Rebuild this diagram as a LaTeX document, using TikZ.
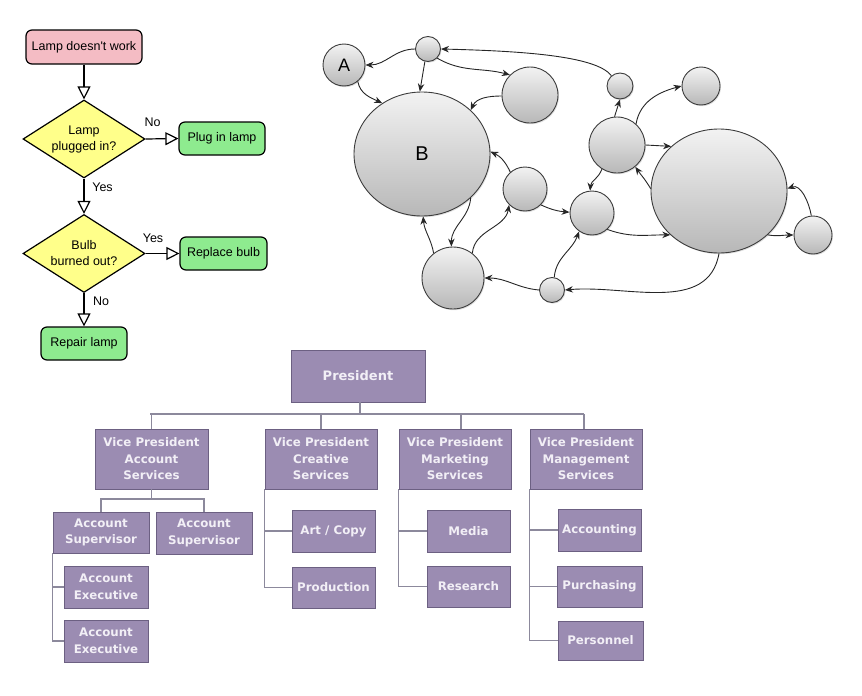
\documentclass[tikz,border=0pt]{standalone}
\usepackage{fontspec}
\setmainfont{Liberation Sans}[Ligatures=TeXOff]
\newfontfamily\orgfont{DejaVu Sans}
\usetikzlibrary{arrows.meta,shapes.geometric,shadows}
\definecolor{fcpink}{HTML}{F4BCC4}
\definecolor{fcyellow}{HTML}{FFFF8A}
\definecolor{fcgreen}{HTML}{8EEB8F}
\definecolor{orgfill}{HTML}{9B8CB2}
\definecolor{orgedge}{HTML}{6C6082}
\definecolor{orgshadow}{HTML}{5A5070}
\definecolor{orgtext}{HTML}{F2EFF6}
\definecolor{orgline}{HTML}{8C899C}
\definecolor{gborder}{HTML}{3C3C3C}
\begin{document}
\begin{tikzpicture}[x=1pt,y=-1pt,
  fcbox/.style={draw, line width=1.2pt, rounded corners=6pt, inner sep=0pt,
    minimum width=86pt, minimum height=33pt, font=\fontsize{12.5}{15}\selectfont},
  decision/.style={diamond, draw, line width=1.2pt, fill=fcyellow, inner sep=0pt,
    minimum width=122pt, minimum height=78pt},
  dtext/.style={align=center, inner sep=0pt, font=\fontsize{12.5}{16}\selectfont},
  flowarrow/.style={draw, line width=1.2pt, -{Triangle[open, length=13pt, width=13pt, line width=1.2pt]}},
  flowlabel/.style={font=\fontsize{12.5}{15}\selectfont, inner sep=0pt},
  gnode/.style={circle, draw=gborder, line width=0.9pt, top color=black!5, bottom color=black!28,
    inner sep=0pt, drop shadow={opacity=0.25, shadow xshift=1pt, shadow yshift=-1.2pt}},
  bignode/.style={ellipse, draw=gborder, line width=0.9pt, top color=black!5, bottom color=black!28,
    inner sep=0pt, minimum width=136pt, minimum height=124pt,
    drop shadow={opacity=0.25, shadow xshift=1pt, shadow yshift=-1.2pt}},
  gedge/.style={draw=black!85, line width=0.9pt, -{Stealth[length=8pt, width=6.5pt]}},
  orgbox/.style={rectangle, fill=orgfill, draw=orgedge, line width=0.8pt, text=orgtext,
    font=\orgfont\bfseries\fontsize{11.8}{16.5}\selectfont, align=center, inner sep=0pt,
    drop shadow={shadow xshift=1.3pt, shadow yshift=-1.3pt, fill=orgshadow, opacity=0.7}},
  orgconn/.style={draw=orgline, line width=1.5pt}
]
\useasboundingbox (0,0) rectangle (862,696);

% ---------------- Flowchart ----------------
\node[fcbox, fill=fcpink, minimum width=116pt, minimum height=34pt] (start) at (84,47) {Lamp doesn't work};
\node[decision] (d1) at (84,139) {};
\node[dtext] (d1t) at (d1.center) {Lamp\\plugged in?};
\node[fcbox, fill=fcgreen] (plug) at (222,138.5) {Plug in lamp};
\node[decision] (d2) at (84,253.5) {};
\node[dtext] (d2t) at (d2.center) {Bulb\\burned out?};
\node[fcbox, fill=fcgreen, minimum width=87pt] (repl) at (223.5,253.5) {Replace bulb};
\node[fcbox, fill=fcgreen] (repair) at (84,343.5) {Repair lamp};

\draw[flowarrow] (start.south) -- (d1.north);
\draw[flowarrow] (d1.east) -- (plug.west);
\draw[flowarrow] (d1.south) -- (d2.north);
\draw[flowarrow] (d2.east) -- (repl.west);
\draw[flowarrow] (d2.south) -- (repair.north);

\node[flowlabel] (no1) at (152.5,122.5) {No};
\node[flowlabel] (yes1) at (102.5,187) {Yes};
\node[flowlabel] (yes2) at (153,238) {Yes};
\node[flowlabel] (no2) at (101,301) {No};

% ---------------- Graph ----------------
\node[gnode, minimum size=42pt, font=\fontsize{18}{18}\selectfont] (A) at (344,65) {A};
\node[gnode, minimum size=25pt] (T1) at (428,49) {};
\node[bignode, font=\fontsize{20}{20}\selectfont] (B) at (422,154) {B};
\node[gnode, minimum size=56pt] (N3) at (530,95) {};
\node[gnode, minimum size=26pt] (T2) at (620,86) {};
\node[gnode, minimum size=38pt] (N5) at (701,86) {};
\node[gnode, minimum size=56pt] (N6) at (617,145) {};
\node[gnode, minimum size=44pt] (N7) at (525,189) {};
\node[gnode, minimum size=44pt] (N8) at (592,213) {};
\node[bignode] (C) at (719,191) {};
\node[gnode, minimum size=38pt] (N11) at (813,235) {};
\node[gnode, minimum size=62pt] (N12) at (453,278) {};
\node[gnode, minimum size=25pt] (N13) at (552,290) {};

\draw[gedge] (T1.west) to[out=180,in=0] (A.east);
\draw[gedge] (T1.256) -- (B.92);
\draw[gedge] (T1.-45) to[out=-30,in=165] (N3.135);
\draw[gedge] (A.-50) to[out=-80,in=155] (B.128);
\draw[gedge] (N3.182) to[out=180,in=65] (B.42);
\draw[gedge] (T2.130) .. controls +(-15,-20) and +(80,2) .. (T1.east);
\draw[gedge] (N6.95) -- (T2.south);
\draw[gedge] (N6.48) to[out=80,in=195] (N5.west);
\draw[gedge] (N6.east) -- (C.137);
\draw[gedge] (C.178) to[out=120,in=-55] (N6.-50);
\draw[gedge] (N6.238) to[out=-110,in=85] (N8.95);
\draw[gedge] (B.-42) to[out=-95,in=90] (N12.93);
\draw[gedge] (N12.128) to[out=100,in=-85] (B.-89);
\draw[gedge] (N12.52) to[out=85,in=-100] (N7.225);
\draw[gedge] (N7.131) to[out=115,in=-25] (B.2);
\draw[gedge] (N7.-45) to[out=-25,in=175] (N8.178);
\draw[gedge] (N8.-47) to[out=-20,in=180] (C.222);
\draw[gedge] (N13.80) to[out=85,in=-110] (N8.235);
\draw[gedge] (N13.west) to[out=175,in=0] (N12.east);
\draw[gedge] (C.-90) to[out=-100,in=5] (N13.east);
\draw[gedge] (C.-42) to[out=-10,in=180] (N11.west);
\draw[gedge] (N11.95) to[out=100,in=20] (C.2);

% ---------------- Org chart ----------------
\node[orgbox, minimum width=134pt, minimum height=52pt, font=\orgfont\bfseries\fontsize{13}{16}\selectfont] (pres) at (358,376) {President};
\node[orgbox, minimum width=113pt, minimum height=60pt] (vpa) at (151.5,459) {Vice President\\Account\\Services};
\node[orgbox, minimum width=112pt, minimum height=60pt] (vpc) at (321,459) {Vice President\\Creative\\Services};
\node[orgbox, minimum width=112pt, minimum height=60pt] (vpk) at (455,459) {Vice President\\Marketing\\Services};
\node[orgbox, minimum width=112pt, minimum height=60pt] (vpg) at (586,459) {Vice President\\Management\\Services};

\node[orgbox, minimum width=96pt, minimum height=41pt] (sup1) at (101,532.5) {Account\\Supervisor};
\node[orgbox, minimum width=96pt, minimum height=42pt] (sup2) at (204,533) {Account\\Supervisor};
\node[orgbox, minimum width=84pt, minimum height=42pt] (ex1) at (106,587) {Account\\Executive};
\node[orgbox, minimum width=84pt, minimum height=42pt] (ex2) at (106,641) {Account\\Executive};

\node[orgbox, minimum width=83pt, minimum height=42pt] (art) at (333.5,531) {Art / Copy};
\node[orgbox, minimum width=83pt, minimum height=41pt] (prod) at (333.5,587.5) {Production};

\node[orgbox, minimum width=83pt, minimum height=42pt] (media) at (468.5,531) {Media};
\node[orgbox, minimum width=83pt, minimum height=41pt] (res) at (468.5,586.5) {Research};

\node[orgbox, minimum width=83pt, minimum height=42pt] (acc) at (599.5,530) {Accounting};
\node[orgbox, minimum width=85pt, minimum height=41pt] (pur) at (599.5,586.5) {Purchasing};
\node[orgbox, minimum width=85pt, minimum height=39pt] (pers) at (600.5,640.5) {Personnel};

\coordinate (hl) at (150,414);
\coordinate (hr) at (584,414);
\draw[orgconn] (hl) -- (hr);
\draw[orgconn] ([xshift=2pt]pres.south) -- ([xshift=2pt]pres.south |- hl);
\draw[orgconn] (vpa.north) -- (vpa.north |- hl);
\draw[orgconn] (vpc.north) -- (vpc.north |- hl);
\draw[orgconn] ([xshift=6pt]vpk.north) -- ([xshift=6pt]vpk.north |- hl);
\draw[orgconn] ([xshift=-2pt]vpg.north) -- ([xshift=-2pt]vpg.north |- hl);

\coordinate (ah) at (151,499);
\draw[orgconn] (vpa.south) -- (vpa.south |- ah);
\draw[orgconn] (sup1.north) -- (sup1.north |- ah) -- (sup2.north |- ah) -- (sup2.north);

\draw[orgconn] (sup1.south west) -- (sup1.south west |- ex2.west) -- (ex2.west);
\draw[orgconn] (sup1.south west |- ex1.west) -- (ex1.west);

\draw[orgconn] (vpc.south west) -- (vpc.south west |- prod.west) -- (prod.west);
\draw[orgconn] (vpc.south west |- art.west) -- (art.west);

\draw[orgconn] (vpk.south west) -- (vpk.south west |- res.west) -- (res.west);
\draw[orgconn] (vpk.south west |- media.west) -- (media.west);

\draw[orgconn] (vpg.south west) -- (vpg.south west |- pers.west) -- (pers.west);
\draw[orgconn] (vpg.south west |- acc.west) -- (acc.west);
\draw[orgconn] (vpg.south west |- pur.west) -- (pur.west);
\end{tikzpicture}
\end{document}
